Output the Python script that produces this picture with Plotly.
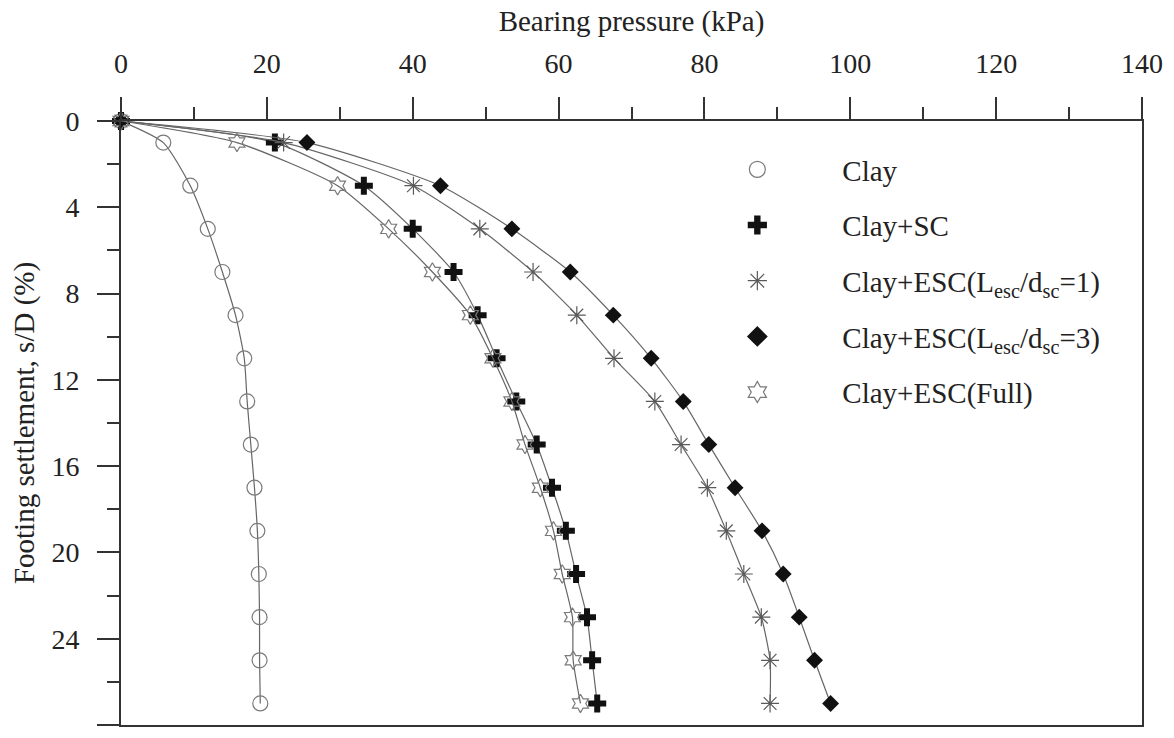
import plotly.graph_objects as go

settlement = [0, 1, 3, 5, 7, 9, 11, 13, 15, 17, 19, 21, 23, 25, 27]

clay = [0, 5.8, 9.5, 11.9, 13.9, 15.7, 16.9, 17.3, 17.8, 18.3, 18.7, 18.9, 19.0, 19.0, 19.1]
clay_sc = [0, 21.1, 33.3, 40.0, 45.6, 48.9, 51.5, 54.2, 57.0, 59.1, 61.0, 62.4, 63.9, 64.6, 65.3]
clay_esc1 = [0, 22.3, 40.1, 49.2, 56.5, 62.5, 67.6, 73.2, 76.8, 80.4, 83.0, 85.4, 87.8, 89.0, 89.0]
clay_esc3 = [0, 25.5, 43.8, 53.6, 61.6, 67.5, 72.7, 77.1, 80.6, 84.2, 87.9, 90.8, 93.0, 95.1, 97.3]
clay_full = [0, 15.9, 29.7, 36.7, 42.7, 47.9, 51.0, 53.6, 55.4, 57.5, 59.3, 60.5, 61.9, 62.0, 63.0]

names = [
    "Clay",
    "Clay+SC",
    "Clay+ESC(L<sub>esc</sub>/d<sub>sc</sub>=1)",
    "Clay+ESC(L<sub>esc</sub>/d<sub>sc</sub>=3)",
    "Clay+ESC(Full)",
]
series = [clay, clay_sc, clay_esc1, clay_esc3, clay_full]

styles = [
    dict(symbol="circle-open", size=15, color="#7a7a7a", line=dict(width=1.2, color="#7a7a7a")),
    dict(symbol="cross", size=15, color="#111111", line=dict(width=0)),
    dict(symbol="asterisk-open", size=15, color="#5a5a5a", line=dict(width=1.2, color="#5a5a5a")),
    dict(symbol="diamond", size=13, color="#111111", line=dict(width=0)),
    dict(symbol="hexagram-open", size=14, color="#7a7a7a", line=dict(width=1.2, color="#7a7a7a")),
]

FONT = "Liberation Serif"
TXT = "#222222"
AX = "#333333"

fig = go.Figure()
for i, (nm, xs, st) in enumerate(zip(names, series, styles)):
    fig.add_trace(go.Scatter(
        x=xs, y=settlement, name=nm, mode="lines+markers",
        line=dict(color="#666666", width=1.2, shape="spline", smoothing=0.6),
        marker=st, cliponaxis=False, legendgroup=f"g{i}", showlegend=False,
    ))
# legend-only entries (marker without line, as in the reference legend)
for i, (nm, st) in enumerate(zip(names, styles)):
    lst = dict(st)
    lst["size"] = 16
    fig.add_trace(go.Scatter(
        x=[None], y=[None], name=nm, mode="markers",
        marker=lst, legendgroup=f"g{i}", showlegend=True,
    ))

axis_common = dict(
    showgrid=False, zeroline=False, showline=True, linewidth=2, linecolor=AX,
    mirror=True, ticks="outside", ticklen=22, tickwidth=2, tickcolor=AX,
    tickfont=dict(family=FONT, size=28, color=TXT),
)

fig.update_layout(
    width=1174, height=738,
    margin=dict(l=121, r=31, t=121, b=11),
    paper_bgcolor="white", plot_bgcolor="white",
    font=dict(family=FONT, color=TXT),
    xaxis=dict(
        side="top", range=[0, 140], dtick=20, tick0=0, ticklabelstandoff=13,
        minor=dict(dtick=10, ticklen=12, tickwidth=2, ticks="outside", tickcolor=AX),
        title=dict(text="Bearing pressure (kPa)", font=dict(family=FONT, size=29, color=TXT), standoff=8),
        **axis_common,
    ),
    yaxis=dict(
        range=[28, 0], dtick=4, tick0=0, ticklabelstandoff=12,
        minor=dict(dtick=2, ticklen=12, tickwidth=2, ticks="outside", tickcolor=AX),
        title=dict(text="Footing settlement, s/D (%)", font=dict(family=FONT, size=29, color=TXT), standoff=8),
        **axis_common,
    ),
    legend=dict(
        x=0.54, y=0.962, xanchor="left", yanchor="top",
        font=dict(family=FONT, size=29, color=TXT),
        bgcolor="rgba(0,0,0,0)", borderwidth=0,
        tracegroupgap=15, itemwidth=160,
    ),
)

fig.write_html("out.html", config={"displayModeBar": False},
               post_script="document.body.style.margin='0px';")
